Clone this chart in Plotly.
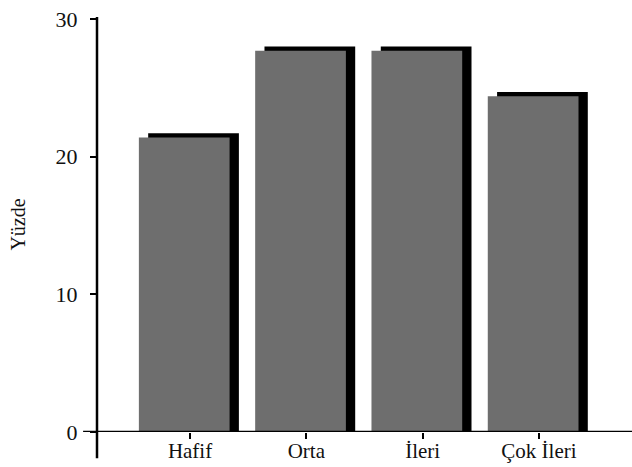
import plotly.graph_objects as go

categories = ["Hafif", "Orta", "İleri", "Çok İleri"]
values = [21.4, 27.7, 27.7, 24.4]
y_ticks = [0, 10, 20, 30]
y_title = "Yüzde"

xpos = list(range(len(categories)))
shadow_lift = 0.3

FONT = "Liberation Serif"

fig = go.Figure()
# dark shadow bars (3-D effect), slightly right and up
fig.add_trace(go.Bar(
    x=xpos, y=[v + shadow_lift for v in values],
    width=0.78, offset=-0.36,
    marker=dict(color="#000000", line=dict(width=0)),
    hoverinfo="skip", showlegend=False,
))
# main gray bars
fig.add_trace(go.Bar(
    x=xpos, y=values,
    width=0.78, offset=-0.44,
    marker=dict(color="#6e6e6e", line=dict(width=0)),
    showlegend=False,
))

fig.update_layout(
    width=632, height=467,
    margin=dict(l=97, r=0, t=17, b=35, autoexpand=False),
    paper_bgcolor="white", plot_bgcolor="white",
    barmode="overlay",
    font=dict(family=FONT, color="#111111", size=21),
    xaxis=dict(
        range=[-0.8, 3.8],
        tickmode="array", tickvals=xpos, ticktext=categories,
        ticks="outside", ticklen=6, tickwidth=2, tickcolor="#000",
        showline=False, showgrid=False, zeroline=False,
        ticklabelstandoff=-6,
        tickfont=dict(size=21), automargin=False,
    ),
    yaxis=dict(
        range=[0, 30.15],
        tickmode="array", tickvals=y_ticks,
        ticks="outside", ticklen=6, tickwidth=2, tickcolor="#000",
        showline=False, showgrid=False, zeroline=False,
        ticklabelstandoff=8, automargin=False,
        tickfont=dict(size=22),
        title=dict(text=y_title, font=dict(size=20), standoff=24),
    ),
    shapes=[
        dict(type="line", xref="paper", yref="y", x0=-0.026, x1=1, y0=0, y1=0,
             line=dict(color="#000", width=2.5)),
        dict(type="line", xref="paper", yref="paper", x0=0, x1=0, y0=-0.063, y1=1.0,
             line=dict(color="#000", width=2.5)),
    ],
)

fig.write_html("out.html", config={"displayModeBar": False},
               post_script="document.body.style.margin='0';document.body.style.padding='0';")
